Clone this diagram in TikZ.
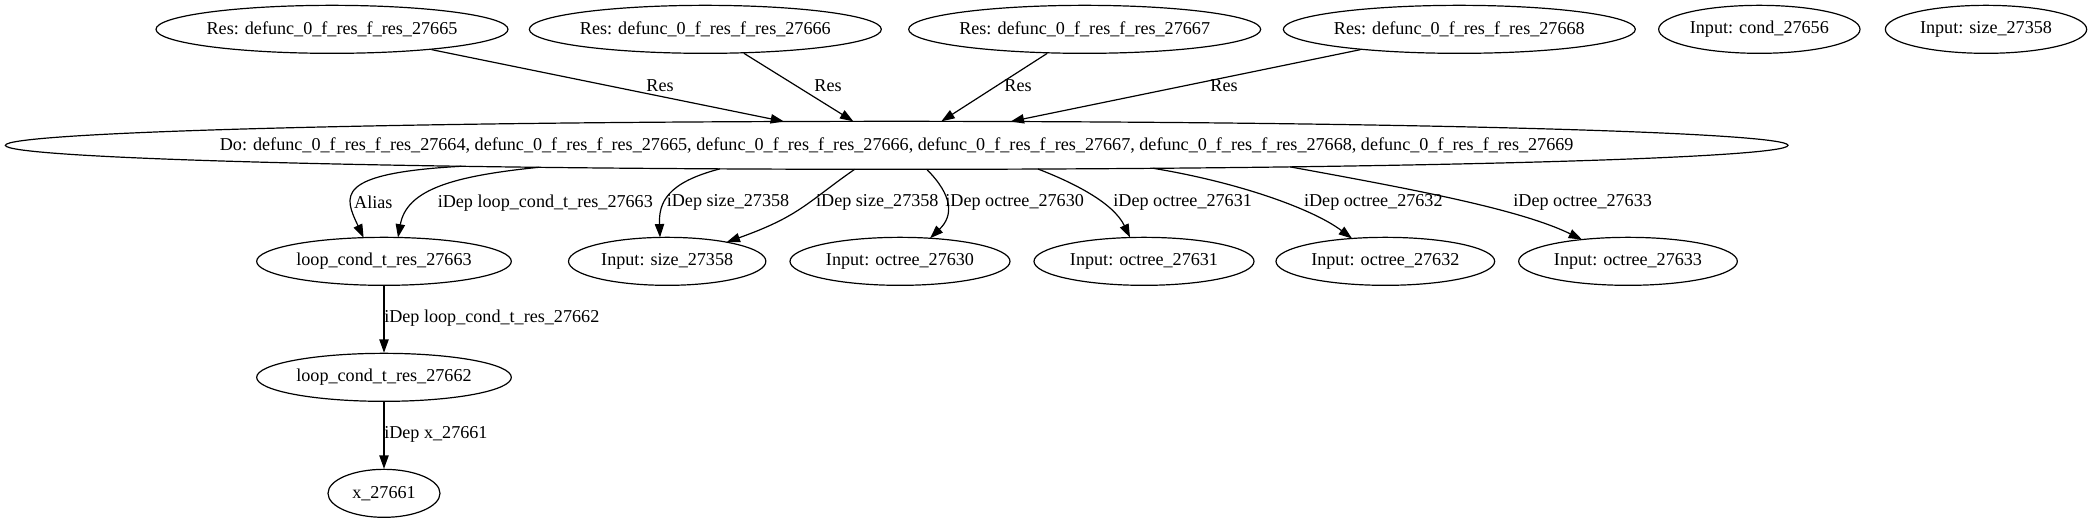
\documentclass[tikz,border=0pt]{standalone}
\usepackage{fontspec}
\setmainfont{Liberation Serif}
\usetikzlibrary{shapes.geometric,arrows.meta,calc}
\newcommand{\zw}[1]{\makebox[0pt][c]{#1}}
\begin{document}
\begin{tikzpicture}[x=1pt,y=1pt,
  gnode/.style={draw, ellipse, inner sep=0pt, minimum height=36pt, line width=0.9pt, font=\fontsize{13.6}{16}\selectfont},
  elabel/.style={inner sep=0pt, font=\fontsize{13.6}{16}\selectfont},
  edge/.style={draw, line width=0.9pt, -{Triangle[length=10pt,width=7pt]}}]
\fill[white] (0,0) rectangle (1569,392);
\useasboundingbox (0,0) rectangle (1569,392);
% top row
\node[gnode, minimum width=264pt] (n65) at (249,370) {\zw{Res: defunc\_0\_f\_res\_f\_res\_27665}};
\node[gnode, minimum width=264pt] (n66) at (529,370) {\zw{Res: defunc\_0\_f\_res\_f\_res\_27666}};
\node[gnode, minimum width=264pt] (n67) at (813.5,370) {\zw{Res: defunc\_0\_f\_res\_f\_res\_27667}};
\node[gnode, minimum width=264pt] (n68) at (1094.5,370) {\zw{Res: defunc\_0\_f\_res\_f\_res\_27668}};
\node[gnode, minimum width=151pt] (cond) at (1319.5,370) {\zw{Input: cond\_27656}};
\node[gnode, minimum width=151pt] (sztop) at (1489.5,370) {\zw{Input: size\_27358}};
% Do node
\node[gnode, minimum width=1337pt] (do) at (672.5,283) {\zw{Do: defunc\_0\_f\_res\_f\_res\_27664, defunc\_0\_f\_res\_f\_res\_27665, defunc\_0\_f\_res\_f\_res\_27666, defunc\_0\_f\_res\_f\_res\_27667, defunc\_0\_f\_res\_f\_res\_27668, defunc\_0\_f\_res\_f\_res\_27669}};
% second row
\node[gnode, minimum width=191pt] (lc63) at (288,196) {\zw{loop\_cond\_t\_res\_27663}};
\node[gnode, minimum width=148pt] (sz) at (500.4,196) {\zw{Input: size\_27358}};
\node[gnode, minimum width=165pt] (o30) at (675,196) {\zw{Input: octree\_27630}};
\node[gnode, minimum width=165pt] (o31) at (858,196) {\zw{Input: octree\_27631}};
\node[gnode, minimum width=164pt] (o32) at (1039,196) {\zw{Input: octree\_27632}};
\node[gnode, minimum width=164pt] (o33) at (1221,196) {\zw{Input: octree\_27633}};
% chain
\node[gnode, minimum width=191pt] (lc62) at (288,109) {\zw{loop\_cond\_t\_res\_27662}};
\node[gnode, minimum width=84pt] (x61) at (288,22) {\zw{x\_27661}};

% Res edges
\draw[edge] (n65) -- ($(do.center)+(-84.5,17.86)$);
\draw[edge] (n66) -- ($(do.center)+(-32.5,17.98)$);
\draw[edge] (n67) -- ($(do.center)+(33.5,17.98)$);
\draw[edge] (n68) -- ($(do.center)+(85.5,17.85)$);
\node[elabel] (lr1) at (495,328) {Res};
\node[elabel] (lr2) at (621,328) {Res};
\node[elabel] (lr3) at (763.5,328) {Res};
\node[elabel] (lr4) at (918,328) {Res};

% Do -> second row
\draw[edge] ($(do.center)+(-326.5,-15.7)$) .. controls (250,262) and (258,245) .. ($(lc63.center)+(-15.3,17.77)$);
\draw[edge] ($(do.center)+(-268.5,-16.48)$) .. controls (340,260) and (305,250) .. ($(lc63.center)+(10.5,17.89)$);
\draw[edge] ($(do.center)+(-132.5,-17.64)$) .. controls (500,255) and (494,240) .. ($(sz.center)+(-5.4,17.95)$);
\draw[edge] ($(do.center)+(-31.5,-17.98)$) .. controls (605,240) and (600,230) .. ($(sz.center)+(44.6,14.37)$);
\draw[edge] ($(do.center)+(22.5,-17.98)$) .. controls (715,245) and (715,230) .. ($(o30.center)+(22.5,17.3)$);
\draw[edge] ($(do.center)+(106,-17.77)$) .. controls (805,255) and (835,240) .. ($(o31.center)+(-10.5,17.9)$);
\draw[edge] ($(do.center)+(192.5,-17.24)$) .. controls (930,255) and (985,235) .. ($(o32.center)+(-25,17.14)$);
\draw[edge] ($(do.center)+(295,-16.15)$) .. controls (1060,250) and (1140,235) .. ($(o33.center)+(-34.5,16.33)$);
\node[elabel] (la) at (280,240) {Alias};
\node[elabel] (lb) at (409,240) {iDep loop\_cond\_t\_res\_27663};
\node[elabel] (lc) at (546,240) {iDep size\_27358};
\node[elabel] (ld) at (658,240) {iDep size\_27358};
\node[elabel] (le) at (761,240) {iDep octree\_27630};
\node[elabel] (lf) at (887,240) {iDep octree\_27631};
\node[elabel] (lg) at (1030,240) {iDep octree\_27632};
\node[elabel] (lh) at (1187,240) {iDep octree\_27633};

% chain edges
\draw[edge] (lc63) -- (lc62);
\draw[edge] (lc62) -- (x61);
\node[elabel, anchor=west] (li) at (288,153.5) {iDep loop\_cond\_t\_res\_27662};
\node[elabel, anchor=west] (lj) at (288,66.5) {iDep x\_27661};
\end{tikzpicture}
\end{document}
